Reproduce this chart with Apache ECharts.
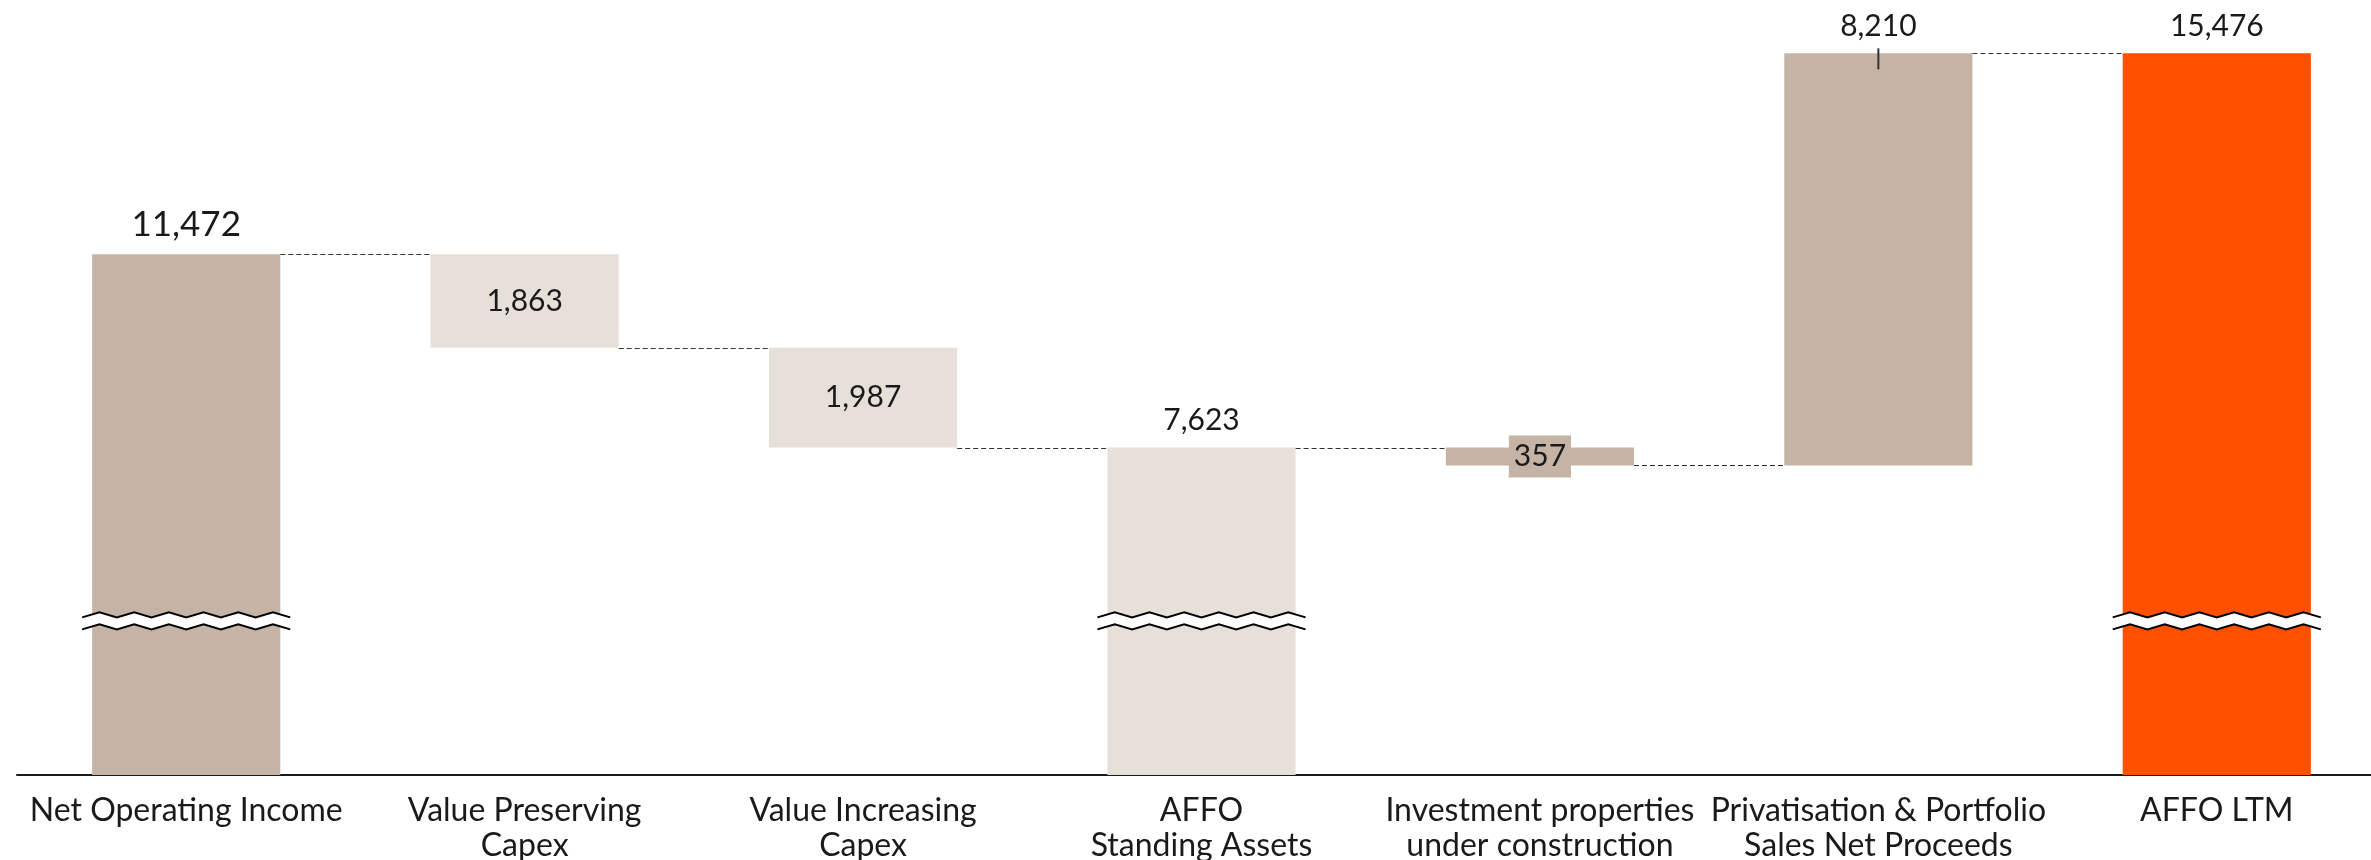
<!DOCTYPE html>
<html>
<head>
<meta charset="utf-8">
<script src="https://cdn.jsdelivr.net/npm/echarts@6/dist/echarts.min.js"></script>
<style>
html, body { margin: 0; padding: 0; background: #fff; }
#main { width: 2371px; height: 860px; }
</style>
</head>
<body>
<div id="main"></div>
<script>
var categories = [
    'Net Operating Income',
    'Value Preserving\nCapex',
    'Value Increasing\nCapex',
    'AFFO\nStanding Assets',
    'Investment properties\nunder construction',
    'Privatisation & Portfolio\nSales Net Proceeds',
    'AFFO LTM'
];
var amounts = [11472, 1863, 1987, 7623, 357, 8210, 15476];
var kinds = ['total', 'down', 'down', 'total', 'down', 'up', 'total'];
var breakAt = 4170; // value where the total bars are drawn as cut

var TAN = '#C5B3A5', LIGHT = '#E7E0D9', ORANGE = '#FF5000', INK = '#1a1a1a';
var BAR_RATIO = 0.556;
var FONT = 'Lato';

// waterfall bases and running level
var bases = [], levels = [], level = 0;
for (var i = 0; i < amounts.length; i++) {
    if (kinds[i] === 'total') {
        bases.push(0);
        level = amounts[i];
    } else if (kinds[i] === 'down') {
        level -= amounts[i];
        bases.push(level);
    } else {
        bases.push(level);
        level += amounts[i];
    }
    levels.push(level);
}

var barColors = [TAN, LIGHT, LIGHT, LIGHT, TAN, TAN, ORANGE];

function fmt(v) {
    return String(v).replace(/\B(?=(\d{3})+(?!\d))/g, ',');
}

var valueData = amounts.map(function (v, i) {
    var label = {
        show: true,
        position: 'top',
        distance: 12,
        fontSize: 30,
        color: INK,
        fontFamily: FONT,
        formatter: fmt(v)
    };
    if (i === 0) label.fontSize = 35;
    if (i === 1 || i === 2) label.position = 'inside';
    if (i === 4) {
        label.position = 'inside';
        label.backgroundColor = TAN;
        label.padding = [6, 5, 6, 5];
    }
    return { value: v, itemStyle: { color: barColors[i] }, label: label };
});

// dashed connectors between bars
var connectorData = [];
for (var j = 0; j < levels.length - 1; j++) connectorData.push([j, levels[j]]);

var breakData = [];
kinds.forEach(function (k, i) { if (k === 'total') breakData.push([i, breakAt]); });

var myChart = echarts.init(document.getElementById('main'));

var option = {
    animation: false,
    grid: { left: 17, right: -15, top: 27, bottom: 85, outerBoundsMode: 'none', containLabel: false },
    xAxis: {
        type: 'category',
        data: categories,
        axisLine: { lineStyle: { color: INK, width: 2 } },
        axisTick: { show: false },
        axisLabel: {
            interval: 0,
            color: INK,
            fontSize: 32,
            lineHeight: 35,
            margin: 18,
            fontFamily: FONT
        }
    },
    yAxis: { type: 'value', min: 1100, max: 16000, show: false },
    series: [{
        name: 'base',
        type: 'bar',
        stack: 'w',
        barWidth: (BAR_RATIO * 100) + '%',
        silent: true,
        itemStyle: { color: 'transparent' },
        data: bases
    }, {
        name: 'value',
        type: 'bar',
        stack: 'w',
        clip: true,
        barWidth: (BAR_RATIO * 100) + '%',
        data: valueData
    }, {
        name: 'connectors',
        type: 'custom',
        z: 4,
        silent: true,
        renderItem: function (params, api) {
            var bw = api.size([1, 0])[0] * BAR_RATIO;
            var a = api.coord([api.value(0), api.value(1)]);
            var b = api.coord([api.value(0) + 1, api.value(1)]);
            var y = Math.round(a[1]) + 0.5;
            return {
                type: 'line',
                shape: { x1: a[0] + bw / 2, y1: y, x2: b[0] - bw / 2, y2: y },
                style: { stroke: '#333', lineWidth: 1, lineDash: [5, 3] }
            };
        },
        data: connectorData
    }, {
        name: 'breaks',
        type: 'custom',
        z: 5,
        silent: true,
        renderItem: function (params, api) {
            var c = api.coord([api.value(0), api.value(1)]);
            var w = api.size([1, 0])[0] * BAR_RATIO + 20;
            var x0 = c[0] - w / 2, n = 12, step = w / n;
            var up = [], low = [];
            for (var k = 0; k <= n; k++) {
                var d = (k % 2 === 0) ? 2.5 : -2.5;
                up.push([x0 + k * step, c[1] - 6 + d]);
                low.push([x0 + k * step, c[1] + 6 + d]);
            }
            return {
                type: 'group',
                children: [
                    { type: 'polygon', shape: { points: up.concat(low.slice().reverse()) }, style: { fill: '#fff' } },
                    { type: 'polyline', shape: { points: up }, style: { stroke: '#000', lineWidth: 2, fill: null } },
                    { type: 'polyline', shape: { points: low }, style: { stroke: '#000', lineWidth: 2, fill: null } }
                ]
            };
        },
        data: breakData
    }, {
        name: 'tick',
        type: 'custom',
        z: 5,
        silent: true,
        renderItem: function (params, api) {
            var c = api.coord([api.value(0), api.value(1)]);
            return {
                type: 'line',
                shape: { x1: c[0], y1: c[1] - 5, x2: c[0], y2: c[1] + 16 },
                style: { stroke: '#333', lineWidth: 2 }
            };
        },
        data: [[5, levels[5]]]
    }]
};

myChart.setOption(option);
</script>
</body>
</html>
